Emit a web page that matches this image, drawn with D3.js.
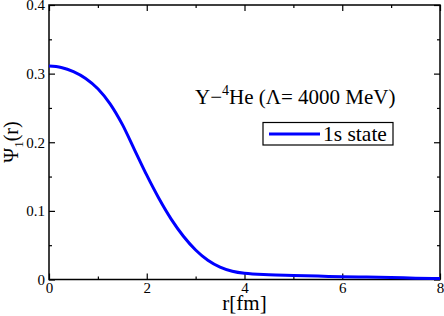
<!DOCTYPE html>
<html>
	<head>
		<meta http-equiv="Content-Type" content="text/html;charset=utf-8"/>
		<script src="https://d3js.org/d3.v7.min.js"></script>
		<style type="text/css">
			body { margin: 0; background: #fff; }
			svg text { font-family: "Liberation Serif", "Times New Roman", serif; fill: #000; }
			.frame { fill: none; stroke: #000; stroke-width: 1.5; }
			.tick line { stroke: #000; stroke-width: 1.2; }
			.curve { fill: none; stroke: #0000ff; stroke-width: 3; }
		</style>
	</head>
	<body>
		<script type="text/javascript">

			//Radial wave function
			var rValues   = [0, 0.25, 0.5, 0.75, 1.0, 1.25, 1.5, 1.75, 2.0, 2.25, 2.5, 2.75, 3.0, 3.25, 3.5, 3.75, 4.0, 4.5, 5.0, 5.5, 6.0, 6.5, 7.0, 7.5, 8.0];
			var psiValues = [0.311, 0.309, 0.303, 0.293, 0.278, 0.256, 0.226, 0.189, 0.152, 0.118, 0.088, 0.063, 0.043, 0.028, 0.018, 0.012, 0.009, 0.007, 0.006, 0.005, 0.004, 0.0035, 0.003, 0.002, 0.0015];

			var xMajor = [0, 2, 4, 6, 8],
				xMinor = [1, 3, 5, 7],
				yMajor = [0, 0.1, 0.2, 0.3, 0.4],
				yMinor = [0.05, 0.15, 0.25, 0.35];

			var seriesName = "1s state";

			var w = 444,
				h = 316,
				pLeft = 49,
				pRight = 440,
				pTop = 5,
				pBottom = 279.5;

			var serif = "'Liberation Serif', 'Times New Roman', serif";

			var data = rValues.map(function(r, i) {
				return { r: r, psi: psiValues[i] };
			});

			var x = d3.scaleLinear().domain([0, 8]).range([pLeft, pRight]);
			var y = d3.scaleLinear().domain([0, 0.4]).range([pBottom, pTop]);

			var svg = d3.select("body").append("svg")
						.attr("width", w)
						.attr("height", h)
						.attr("font-family", serif);

			//Ticks pointing inward on all four sides
			function ticks(axis, vals, size, labels) {
				return axis.tickValues(vals).tickSizeInner(-size).tickSizeOuter(0)
					.tickFormat(labels ? d3.format("") : "");
			}

			function drawAxes(g) {
				g.attr("font-family", serif).attr("font-size", 15);
				g.select(".domain").remove();
			}

			svg.append("g").attr("transform", "translate(0," + pBottom + ")")
				.call(ticks(d3.axisBottom(x), xMinor, 3, false)).call(drawAxes);
			svg.append("g").attr("transform", "translate(0," + pBottom + ")")
				.call(ticks(d3.axisBottom(x), xMajor, 6, true)).call(drawAxes)
				.selectAll("text").attr("y", 3).attr("dy", "0.71em");
			svg.append("g").attr("transform", "translate(0," + pTop + ")")
				.call(ticks(d3.axisTop(x), xMinor, 3, false)).call(drawAxes);
			svg.append("g").attr("transform", "translate(0," + pTop + ")")
				.call(ticks(d3.axisTop(x), xMajor, 6, false)).call(drawAxes);

			svg.append("g").attr("transform", "translate(" + pLeft + ",0)")
				.call(ticks(d3.axisLeft(y), yMinor, 3, false)).call(drawAxes);
			var yl = svg.append("g").attr("transform", "translate(" + pLeft + ",0)")
				.call(ticks(d3.axisLeft(y), yMajor, 6, true)).call(drawAxes);
			yl.selectAll("text").attr("x", -4).attr("dy", "0.32em");
			svg.append("g").attr("transform", "translate(" + pRight + ",0)")
				.call(ticks(d3.axisRight(y), yMinor, 3, false)).call(drawAxes);
			svg.append("g").attr("transform", "translate(" + pRight + ",0)")
				.call(ticks(d3.axisRight(y), yMajor, 6, false)).call(drawAxes);

			svg.append("rect").attr("class", "frame")
				.attr("x", pLeft).attr("y", pTop)
				.attr("width", pRight - pLeft).attr("height", pBottom - pTop);

			//The curve
			var line = d3.line()
				.x(function(d) { return x(d.r); })
				.y(function(d) { return y(d.psi); })
				.curve(d3.curveMonotoneX);

			svg.append("path").datum(data)
				.attr("class", "curve")
				.attr("d", line);

			//Axis titles
			svg.append("text")
				.attr("x", (pLeft + pRight) / 2)
				.attr("y", 310)
				.attr("text-anchor", "middle")
				.attr("font-size", 21)
				.text("r[fm]");

			var yt = svg.append("text")
				.attr("transform", "translate(18,142) rotate(-90)")
				.attr("text-anchor", "middle")
				.attr("font-size", 20);
			yt.append("tspan").text("\u03A8");
			yt.append("tspan").attr("dy", 5).attr("font-size", 13).text("1");
			yt.append("tspan").attr("dy", -5).text("(r)");

			//Annotation
			var note = svg.append("text")
				.attr("x", 195)
				.attr("y", 104)
				.attr("font-size", 21);
			note.append("tspan").text("Y\u2212");
			note.append("tspan").attr("dy", -9).attr("font-size", 14).text("4");
			note.append("tspan").attr("dy", 9).text("He (\u039B= 4000 MeV)");

			//Legend
			var lg = svg.append("g");
			lg.append("rect")
				.attr("x", 263).attr("y", 122.5)
				.attr("width", 130).attr("height", 22.5)
				.attr("fill", "#fff").attr("stroke", "#000").attr("stroke-width", 1.2);
			lg.append("line")
				.attr("x1", 269).attr("x2", 320)
				.attr("y1", 134).attr("y2", 134)
				.attr("stroke", "#0000ff").attr("stroke-width", 3);
			lg.append("text")
				.attr("x", 323).attr("y", 141)
				.attr("font-size", 21.5)
				.text(seriesName);

		</script>
	</body>
</html>
